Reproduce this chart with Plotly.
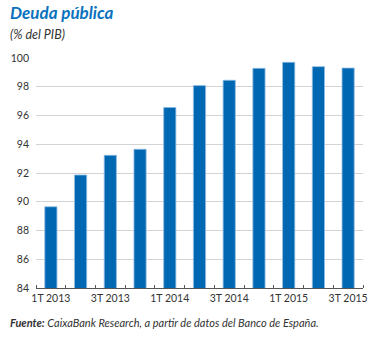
import plotly.graph_objects as go

categories = ["1T 2013", "2T 2013", "3T 2013", "4T 2013", "1T 2014", "2T 2014",
              "3T 2014", "4T 2014", "1T 2015", "2T 2015", "3T 2015"]
values = [89.65, 91.86, 93.23, 93.65, 96.56, 98.08, 98.45, 99.28, 99.7, 99.4, 99.3]
y_ticks = [84, 86, 88, 90, 92, 94, 96, 98, 100]

xs = list(range(len(categories)))
label_idx = xs[::2]

FONT = "Lato"
fig = go.Figure()
fig.add_trace(go.Bar(
    x=xs, y=values, width=0.41,
    marker=dict(color="#0068b3", line=dict(color="#8fbbe0", width=0.8)),
    hoverinfo="skip",
))

fig.update_layout(
    width=378, height=338,
    margin=dict(l=35, r=11, t=58, b=50),
    paper_bgcolor="white", plot_bgcolor="white",
    showlegend=False,
    font=dict(family=FONT, color="#333333", size=11),
    xaxis=dict(
        range=[-0.5, len(categories) - 0.5],
        tickvals=label_idx,
        ticktext=[categories[i] for i in label_idx],
        ticks="", showgrid=False,
        showline=True, linecolor="#555555", linewidth=1,
        tickfont=dict(size=10.5, family=FONT, color="#333333"),
        minor=dict(tickmode="linear", tick0=-0.5, dtick=1, ticks="inside",
                   ticklen=3, tickcolor="#555555", tickwidth=1, showgrid=False),
        zeroline=False,
    ),
    yaxis=dict(
        range=[84, 100],
        tickvals=y_ticks,
        ticks="", showgrid=True, gridcolor="#d3d3d3", gridwidth=1,
        showline=False, zeroline=False,
        tickfont=dict(size=10.5, family=FONT, color="#333333"),
        ticklabelstandoff=6,
    ),
    bargap=0.59,
)

fig.add_annotation(text="<b><i>Deuda pública</i></b>", xref="paper", yref="paper",
                   x=0, xanchor="left", y=1, yanchor="bottom",
                   xshift=-28, yshift=33,
                   showarrow=False, font=dict(family=FONT, size=17, color="#0a72bd"))
fig.add_annotation(text="<i>(% del PIB)</i>", xref="paper", yref="paper",
                   x=0, xanchor="left", y=1, yanchor="bottom",
                   xshift=-28, yshift=14,
                   showarrow=False, font=dict(family=FONT, size=12.5, color="#333333"))
fig.add_annotation(text="<b><i>Fuente:</i></b><i> CaixaBank Research, a partir de datos del Banco de España.</i>",
                   xref="paper", yref="paper",
                   x=0, xanchor="left", y=0, yanchor="top",
                   xshift=-28, yshift=-26,
                   showarrow=False, font=dict(family=FONT, size=11, color="#333333"))

fig.write_html("out.html")
